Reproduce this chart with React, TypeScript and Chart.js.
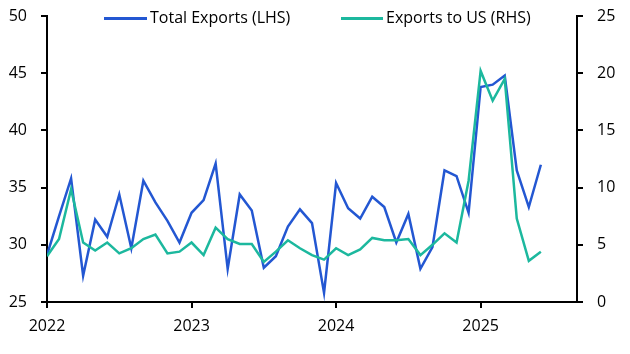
import React, { useEffect, useRef } from "react";
import { Chart, registerables } from "chart.js";

Chart.register(...registerables);

const months: string[] = [
  "2022-01","2022-02","2022-03","2022-04","2022-05","2022-06","2022-07","2022-08","2022-09","2022-10","2022-11","2022-12",
  "2023-01","2023-02","2023-03","2023-04","2023-05","2023-06","2023-07","2023-08","2023-09","2023-10","2023-11","2023-12",
  "2024-01","2024-02","2024-03","2024-04","2024-05","2024-06","2024-07","2024-08","2024-09","2024-10","2024-11","2024-12",
  "2025-01","2025-02","2025-03","2025-04","2025-05","2025-06",
];

const totalExports: number[] = [
  29.1, 32.5, 35.8, 27.3, 32.2, 30.7, 34.4, 29.7, 35.6, 33.7, 32.1, 30.2,
  32.8, 33.9, 37.1, 27.9, 34.4, 33.0, 28.0, 29.0, 31.6, 33.1, 31.9, 25.8,
  35.4, 33.2, 32.3, 34.2, 33.3, 30.2, 32.7, 27.9, 29.8, 36.5, 36.0, 32.8,
  43.8, 44.0, 44.8, 36.5, 33.3, 37.0,
];

const exportsToUS: number[] = [
  4.0, 5.5, 9.85, 5.2, 4.5, 5.2, 4.25, 4.7, 5.5, 5.9, 4.25, 4.4,
  5.2, 4.1, 6.5, 5.5, 5.07, 5.07, 3.5, 4.4, 5.4, 4.7, 4.1, 3.7,
  4.7, 4.1, 4.6, 5.6, 5.4, 5.4, 5.5, 4.1, 5.0, 6.0, 5.2, 10.6,
  20.2, 17.6, 19.5, 7.3, 3.6, 4.4,
];

const xTickLabels: string[] = ["2022", "2023", "2024", "2025"];
const seriesNames: string[] = ["Total Exports (LHS)", "Exports to US (RHS)"];
const leftTicks = { min: 25, max: 50, step: 5 };
const rightTicks = { min: 0, max: 25, step: 5 };

const BLUE = "#2357d2";
const TEAL = "#1cb89e";
const FONT = "'Open Sans', sans-serif";

export default function App() {
  const ref = useRef<HTMLCanvasElement | null>(null);

  useEffect(() => {
    if (!ref.current) return;
    const monthIndex = (m: string) => {
      const [y, mo] = m.split("-").map(Number);
      return (y - 2022) * 12 + (mo - 1);
    };
    const legendPlugin = {
      id: "customLegend",
      afterDraw(chart: any) {
        const ctx = chart.ctx;
        ctx.save();
        const items = [
          { x0: 104, x1: 147, tx: 150, color: BLUE, label: seriesNames[0] },
          { x0: 341, x1: 383, tx: 386, color: TEAL, label: seriesNames[1] },
        ];
        ctx.font = `16px ${FONT}`;
        ctx.textBaseline = "middle";
        for (const it of items) {
          ctx.strokeStyle = it.color;
          ctx.lineWidth = 3;
          ctx.beginPath();
          ctx.moveTo(it.x0, 18.5);
          ctx.lineTo(it.x1, 18.5);
          ctx.stroke();
          ctx.fillStyle = "#000";
          ctx.fillText(it.label, it.tx, 18);
        }
        ctx.restore();
      },
    };

    const fitVertical = (w: number) => (axis: any) => {
      axis.width = w;
      axis.paddingTop = 0;
      axis.paddingBottom = 0;
    };

    const tickFont = { family: FONT, size: 16 };
    const chart = new Chart(ref.current, {
      type: "line",
      data: {
        datasets: [
          {
            label: seriesNames[0],
            data: months.map((m, i) => ({ x: monthIndex(m), y: totalExports[i] })),
            borderColor: BLUE,
            backgroundColor: BLUE,
            borderWidth: 2.5,
            pointRadius: 0,
            tension: 0,
            yAxisID: "y",
            order: 1,
          },
          {
            label: seriesNames[1],
            data: months.map((m, i) => ({ x: monthIndex(m), y: exportsToUS[i] })),
            borderColor: TEAL,
            backgroundColor: TEAL,
            borderWidth: 2.5,
            pointRadius: 0,
            tension: 0,
            yAxisID: "y1",
            order: 0,
          },
        ],
      },
      options: {
        responsive: false,
        animation: false,
        layout: { padding: { top: 16, left: 0, right: 0, bottom: 0 } },
        plugins: { legend: { display: false }, tooltip: { enabled: false } },
        scales: {
          x: {
            type: "linear",
            min: 0,
            max: 44,
            afterBuildTicks: (axis: any) => {
              axis.ticks = xTickLabels.map((_, i) => ({ value: i * 12 }));
            },
            afterFit: (axis: any) => {
              axis.height = 52;
            },
            ticks: {
              color: "#000",
              font: tickFont,
              padding: 9,
              maxRotation: 0,
              autoSkip: false,
              callback: (v: any) => xTickLabels[Math.round(Number(v) / 12)] ?? "",
            },
            grid: { drawOnChartArea: false, drawTicks: true, tickLength: 6, color: "#000", lineWidth: 2 },
            border: { display: true, color: "#000", width: 2 },
          },
          y: {
            position: "left",
            min: leftTicks.min,
            max: leftTicks.max,
            afterFit: fitVertical(47),
            ticks: { stepSize: leftTicks.step, color: "#000", font: tickFont, padding: 14 },
            grid: { drawOnChartArea: false, drawTicks: true, tickLength: 6, color: "#000", lineWidth: 2 },
            border: { display: true, color: "#000", width: 2 },
          },
          y1: {
            position: "right",
            min: rightTicks.min,
            max: rightTicks.max,
            afterFit: fitVertical(53),
            ticks: { stepSize: rightTicks.step, color: "#000", font: tickFont, padding: 14 },
            grid: { drawOnChartArea: false, drawTicks: true, tickLength: 6, color: "#000", lineWidth: 2 },
            border: { display: true, color: "#000", width: 2 },
          },
        },
      },
      plugins: [legendPlugin],
    } as any);
    return () => chart.destroy();
  }, []);

  return (
    <div style={{ position: "absolute", left: 0, top: 0, width: 630, height: 354 }}>
      <canvas ref={ref} width={630} height={354} style={{ width: 630, height: 354, display: "block" }} />
    </div>
  );
}
